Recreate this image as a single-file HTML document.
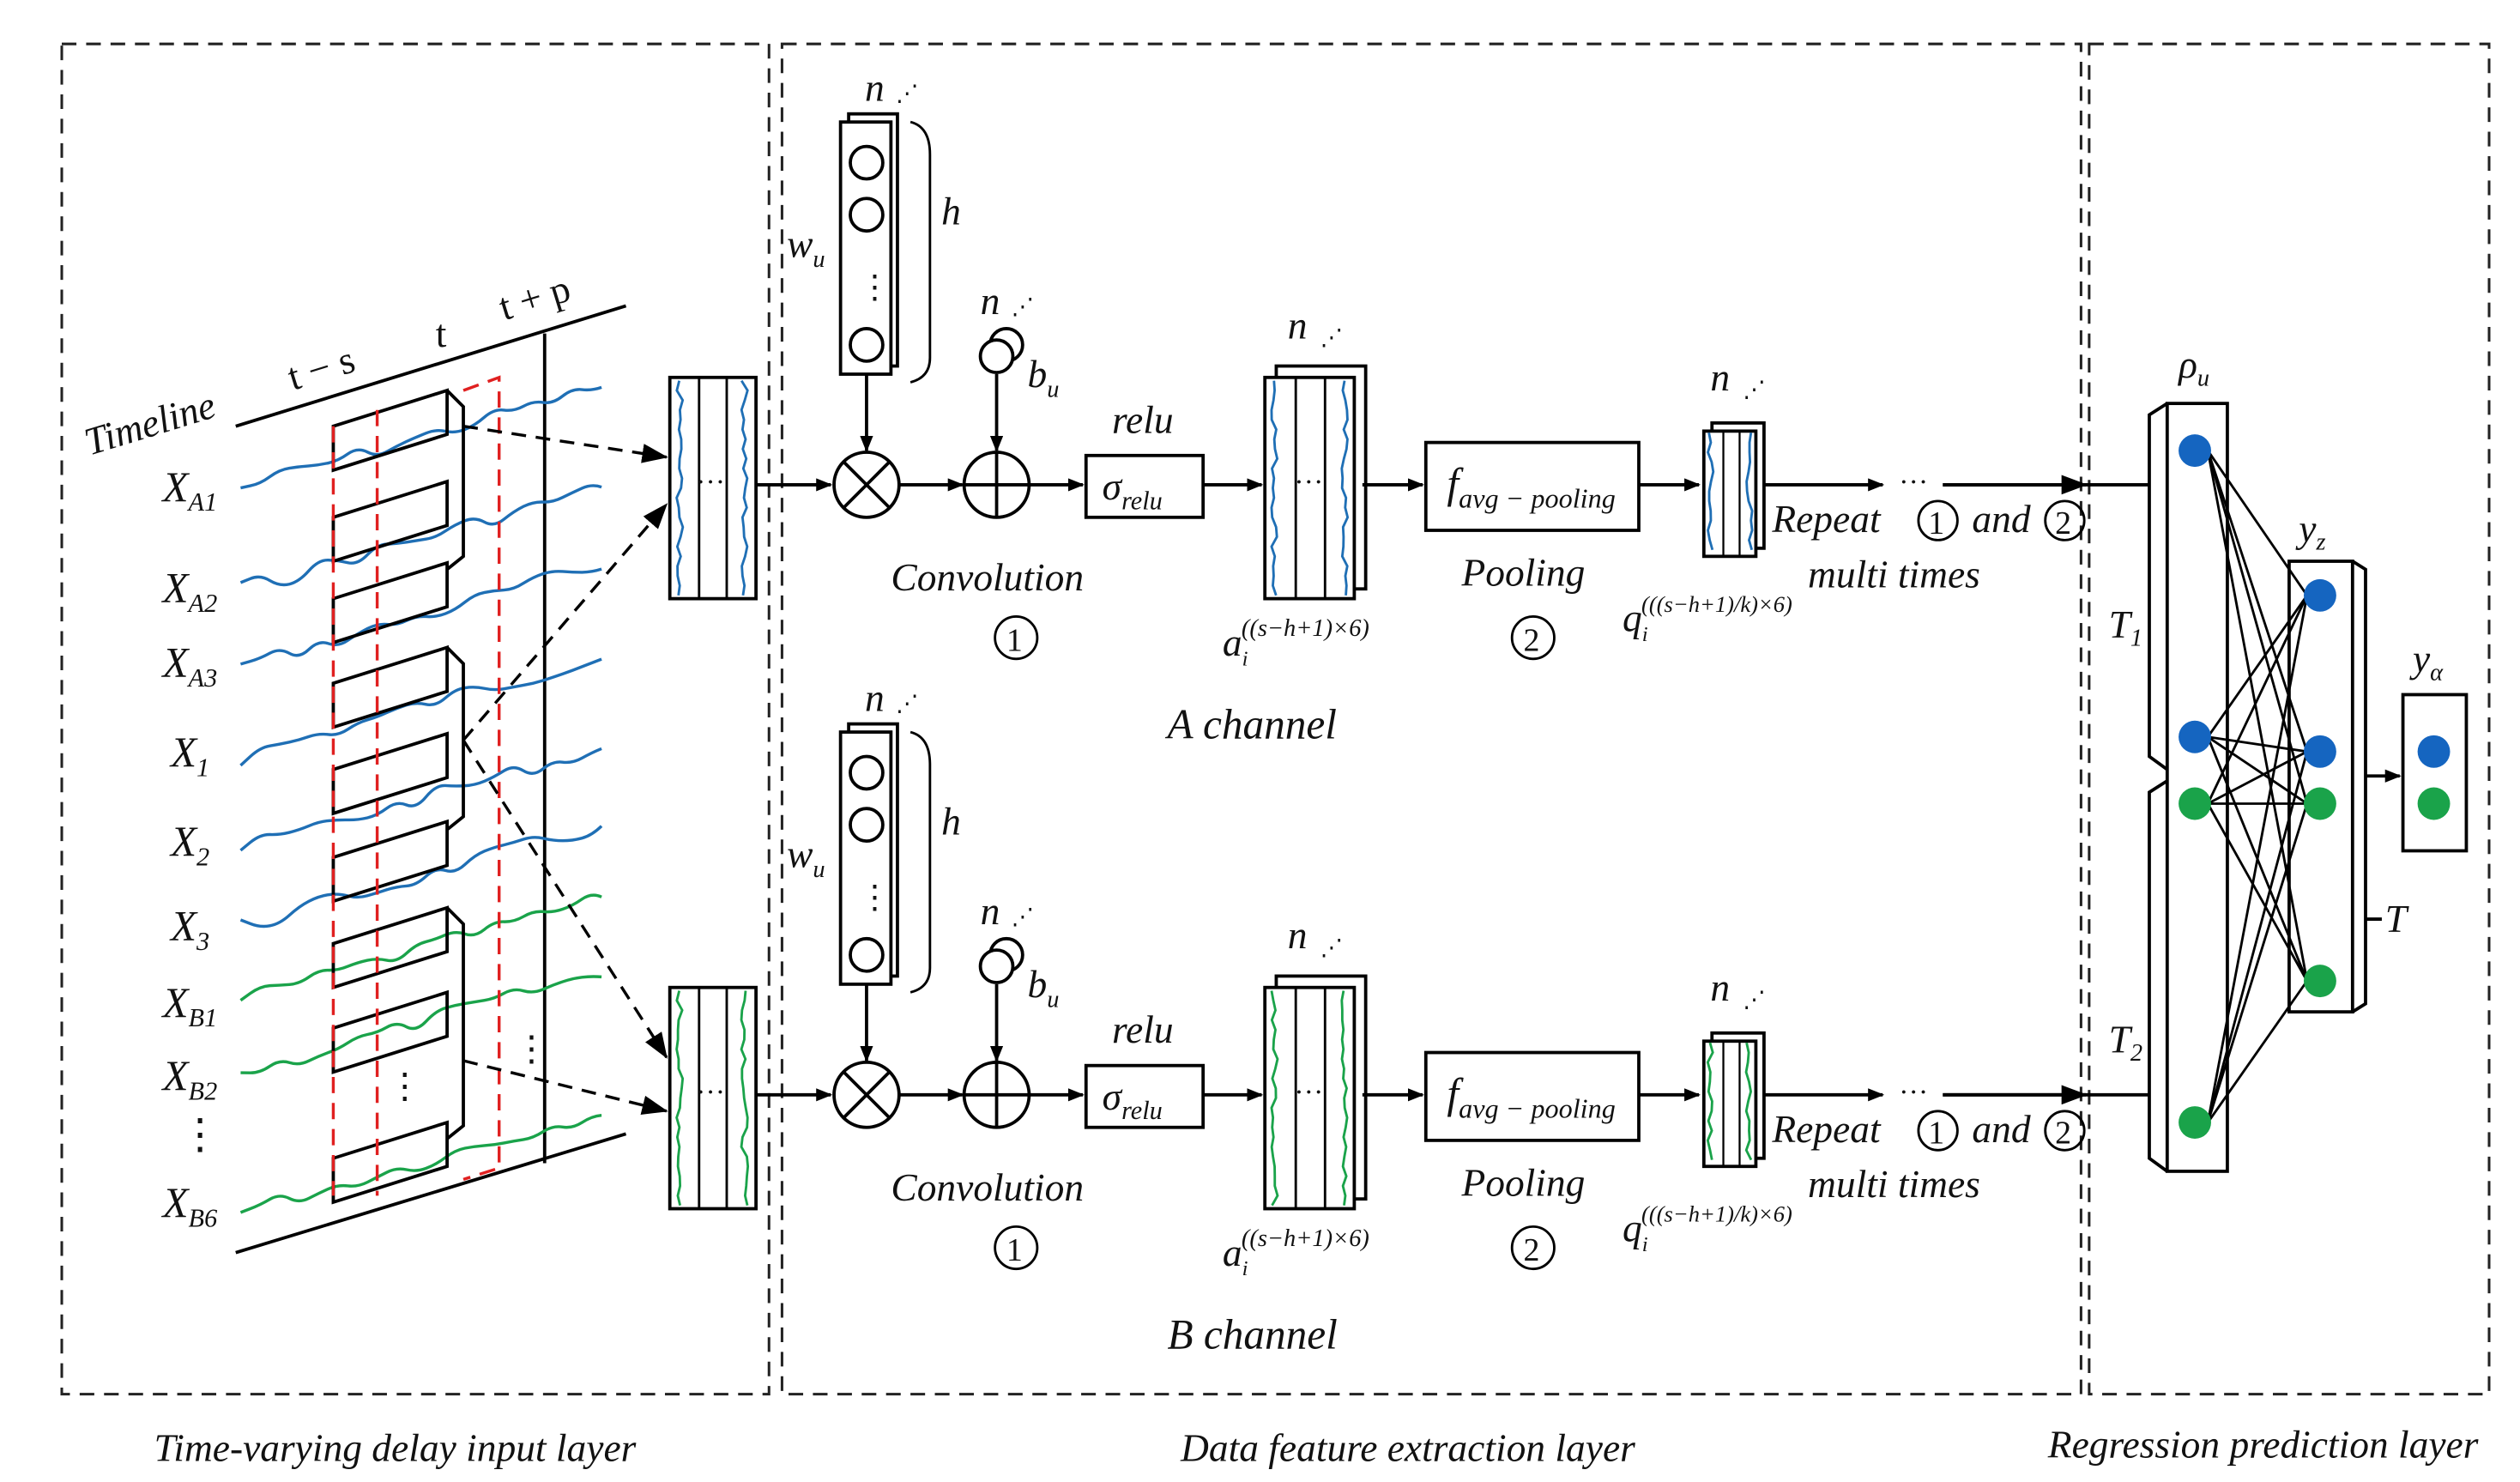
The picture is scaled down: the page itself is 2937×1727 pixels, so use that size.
<!DOCTYPE html>
<html><head><meta charset="utf-8"><style>
html,body{margin:0;padding:0;background:#fff;}
svg{display:block;}
text{font-family:"Liberation Serif",serif;font-style:italic;fill:#111;}
</style></head><body>
<svg id="s" width="2937" height="1727" viewBox="0 0 1550 911" preserveAspectRatio="none" xmlns="http://www.w3.org/2000/svg">
<defs>
<marker id="ah" markerWidth="10" markerHeight="8" refX="9" refY="4" orient="auto" markerUnits="userSpaceOnUse"><path d="M0,0 L10,4 L0,8 z" fill="#000"/></marker>
<marker id="ah2" markerWidth="16" markerHeight="12" refX="15" refY="6" orient="auto" markerUnits="userSpaceOnUse"><path d="M0,0 L16,6 L0,12 z" fill="#000"/></marker>
</defs>
<g fill="none" stroke="#222" stroke-width="1.6" stroke-dasharray="9,6">
<rect x="38" y="27" width="435" height="830"/>
<rect x="481" y="27" width="799" height="830"/>
<rect x="1285" y="27" width="246" height="830"/>
</g>
<text x="243" y="898" font-size="24" text-anchor="middle">Time-varying delay input layer</text>
<text x="866" y="898" font-size="24" text-anchor="middle">Data feature extraction layer</text>
<text x="1392" y="896" font-size="24" text-anchor="middle">Regression prediction layer</text>

<g stroke="#000" stroke-width="2" fill="none">
<line x1="145" y1="262" x2="385" y2="188"/>
<line x1="145" y1="770" x2="385" y2="697"/>
<line x1="335" y1="205" x2="335" y2="715"/>
</g>
<text font-size="24" transform="translate(55,280) rotate(-17)">Timeline</text>
<text font-size="24" transform="translate(180,240) rotate(-17)" style="font-style:normal">t − s</text>
<text font-size="24" x="268" y="213" style="font-style:normal">t</text>
<text font-size="24" transform="translate(310,197) rotate(-17)" style="font-style:normal">t + p</text>
<g font-size="26">
<text x="100" y="308">X<tspan font-size="16" dy="6">A1</tspan></text>
<text x="100" y="370">X<tspan font-size="16" dy="6">A2</tspan></text>
<text x="100" y="416">X<tspan font-size="16" dy="6">A3</tspan></text>
<text x="105" y="471">X<tspan font-size="16" dy="6">1</tspan></text>
<text x="105" y="526">X<tspan font-size="16" dy="6">2</tspan></text>
<text x="105" y="578">X<tspan font-size="16" dy="6">3</tspan></text>
<text x="100" y="625">X<tspan font-size="16" dy="6">B1</tspan></text>
<text x="100" y="670">X<tspan font-size="16" dy="6">B2</tspan></text>
<text x="110" y="706" style="font-style:normal">⋮</text>
<text x="100" y="748">X<tspan font-size="16" dy="6">B6</tspan></text>
</g>
<g id="curves" fill="none" stroke-width="1.8"></g>
<g id="wins" fill="none" stroke="#000" stroke-width="2"></g>
<g fill="none" stroke="#e02020" stroke-width="1.8" stroke-dasharray="10,6">
<line x1="205" y1="262" x2="205" y2="735"/>
<line x1="232" y1="252" x2="232" y2="735"/>
<polyline points="285,240 307,232 307,718 285,725"/>
</g>
<text x="238" y="675" font-size="22" style="font-style:normal">⋮</text>
<text x="316" y="652" font-size="22" style="font-style:normal">⋮</text>
<g stroke="#000" stroke-width="1.8" stroke-dasharray="9,6" fill="none">
<line x1="285" y1="262" x2="410" y2="281" marker-end="url(#ah2)"/>
<line x1="285" y1="455" x2="410" y2="310" marker-end="url(#ah2)"/>
<line x1="285" y1="455" x2="410" y2="650" marker-end="url(#ah2)"/>
<line x1="285" y1="652" x2="410" y2="683" marker-end="url(#ah2)"/>
</g>
<g id="chA"></g>
<g id="chB"></g>

<g stroke="#000" stroke-width="2" fill="none">
<line x1="1195" y1="298" x2="1322" y2="298"/>
<line x1="1195" y1="673" x2="1322" y2="673"/>
<rect x="1333" y="248" width="37" height="472"/>
<path d="M1333,248 L1322,255 L1322,465 L1333,473 M1333,480 L1322,487 L1322,712 L1333,720"/>
<rect x="1408" y="345" width="39" height="277"/>
<path d="M1447,345 L1455,350 L1455,617 L1447,622"/>
<rect x="1478" y="427" width="39" height="96"/>
<line x1="1455" y1="477" x2="1476" y2="477" marker-end="url(#ah)"/>
<line x1="1455" y1="565" x2="1465" y2="565"/>
</g>
<g id="net" stroke="#000" stroke-width="1.5"></g>
<g>
<circle cx="1350" cy="277" r="10" fill="#1565c0"/>
<circle cx="1350" cy="453" r="10" fill="#1565c0"/>
<circle cx="1350" cy="494" r="10" fill="#1aa34a"/>
<circle cx="1350" cy="690" r="10" fill="#1aa34a"/>
<circle cx="1427" cy="366" r="10" fill="#1565c0"/>
<circle cx="1427" cy="462" r="10" fill="#1565c0"/>
<circle cx="1427" cy="494" r="10" fill="#1aa34a"/>
<circle cx="1427" cy="603" r="10" fill="#1aa34a"/>
<circle cx="1497" cy="462" r="10" fill="#1565c0"/>
<circle cx="1497" cy="494" r="10" fill="#1aa34a"/>
</g>
<text x="1340" y="232" font-size="24">ρ<tspan font-size="15" dy="5">u</tspan></text>
<text x="1414" y="333" font-size="24">y<tspan font-size="15" dy="5">z</tspan></text>
<text x="1484" y="413" font-size="24">y<tspan font-size="15" dy="5">α</tspan></text>
<text x="1297" y="392" font-size="24">T<tspan font-size="15" dy="5">1</tspan></text>
<text x="1297" y="647" font-size="24">T<tspan font-size="15" dy="5">2</tspan></text>
<text x="1467" y="573" font-size="24">T</text>
</svg>
<script>
var NS="http://www.w3.org/2000/svg";
function el(p,t,a,txt){var e=document.createElementNS(NS,t);for(var k in a)e.setAttribute(k,a[k]);if(txt!==undefined)e.textContent=txt;p.appendChild(e);return e;}
var seed=7;function rnd(){seed=(seed*9301+49297)%233280;return seed/233280;}
var rows=[[300,"#1f6fb5"],[362,"#1f6fb5"],[410,"#1f6fb5"],[465,"#1f6fb5"],[522,"#1f6fb5"],[570,"#1f6fb5"],[615,"#1aa34a"],[660,"#1aa34a"],[745,"#1aa34a"]];
var cg=document.getElementById("curves");
rows.forEach(function(r){var pts=[];for(var x=148;x<=385;x+=12){pts.push([x,r[0]-(x-148)*0.28+(rnd()-0.5)*12]);}
 var d="M"+pts[0][0]+","+pts[0][1].toFixed(1);
 for(var i=1;i<pts.length;i++){var mx=(pts[i-1][0]+pts[i][0])/2,my=(pts[i-1][1]+pts[i][1])/2;d+=" Q"+pts[i-1][0]+","+pts[i-1][1].toFixed(1)+" "+mx+","+my.toFixed(1);}
 el(cg,"path",{d:d,stroke:r[1]});});
var wg=document.getElementById("wins");
[262,318,368,420,473,527,580,632,712].forEach(function(y){el(wg,"path",{d:"M205,"+y+" L275,"+(y-22)+" L275,"+(y+5)+" L205,"+(y+27)+" Z"});});
[[240,350],[398,510],[558,700]].forEach(function(g){el(wg,"path",{d:"M275,"+g[0]+" L285,"+(g[0]+10)+" L285,"+(g[1]-8)+" L275,"+g[1]});});
function channel(dy,col,label){
 var g=document.getElementById(dy?"chB":"chA");var Y=298+dy;
 var s={stroke:"#000","stroke-width":2,fill:"none"};
 function S(o){var r={};for(var k in s)r[k]=s[k];for(var k in o)r[k]=o[k];return r;}
 el(g,"rect",S({x:412,y:232+dy,width:53,height:136}));
 el(g,"line",S({x1:430,y1:232+dy,x2:430,y2:368+dy,"stroke-width":1.5}));
 el(g,"line",S({x1:447,y1:232+dy,x2:447,y2:368+dy,"stroke-width":1.5}));
 function wav(x,y1,y2){var d="";for(var y=y1;y<=y2;y+=6){d+=(y==y1?"M":"L")+(x+(rnd()-0.5)*4).toFixed(1)+","+y;}el(g,"path",{d:d,stroke:col,fill:"none","stroke-width":1.5});}
 wav(418,234+dy,366+dy);wav(458,234+dy,366+dy);
 el(g,"text",{x:428,y:Y+4,"font-size":18,style:"font-style:normal"},"···");
 el(g,"line",S({x1:465,y1:Y,x2:511,y2:Y,"marker-end":"url(#ah)"}));
 el(g,"rect",S({x:522,y:70+dy,width:30,height:155,fill:"#fff"}));
 el(g,"rect",S({x:517,y:75+dy,width:31,height:155,fill:"#fff"}));
 [100,132,212].forEach(function(c){el(g,"circle",S({cx:533,cy:c+dy,r:10}));});
 el(g,"text",{x:528,y:183+dy,"font-size":20,style:"font-style:normal"},"⋮");
 el(g,"path",S({d:"M560,"+(75+dy)+" Q572,"+(78+dy)+" 572,"+(95+dy)+" L572,"+(220+dy)+" Q572,"+(232+dy)+" 560,"+(235+dy),"stroke-width":1.5}));
 el(g,"text",{x:579,y:138+dy,"font-size":24},"h");
 el(g,"text",{x:532,y:62+dy,"font-size":24},"n");
 el(g,"text",{x:551,y:62+dy,"font-size":14,style:"font-style:normal"},"⋰");
 var t=el(g,"text",{x:484,y:158+dy,"font-size":24},"w");el(t,"tspan",{"font-size":15,dy:6},"u");
 el(g,"line",S({x1:533,y1:230+dy,x2:533,y2:277+dy,"marker-end":"url(#ah)"}));
 el(g,"circle",S({cx:533,cy:Y,r:20}));
 el(g,"line",S({x1:519,y1:Y-14,x2:547,y2:Y+14}));el(g,"line",S({x1:547,y1:Y-14,x2:519,y2:Y+14}));
 el(g,"line",S({x1:553,y1:Y,x2:592,y2:Y,"marker-end":"url(#ah)"}));
 el(g,"circle",S({cx:613,cy:Y,r:20}));
 el(g,"line",S({x1:593,y1:Y,x2:633,y2:Y}));el(g,"line",S({x1:613,y1:Y-20,x2:613,y2:Y+20}));
 el(g,"circle",S({cx:619,cy:212+dy,r:10}));el(g,"circle",S({cx:613,cy:219+dy,r:10,fill:"#fff"}));
 el(g,"text",{x:603,y:193+dy,"font-size":24},"n");
 el(g,"text",{x:622,y:193+dy,"font-size":14,style:"font-style:normal"},"⋰");
 t=el(g,"text",{x:632,y:238+dy,"font-size":24},"b");el(t,"tspan",{"font-size":15,dy:6},"u");
 el(g,"line",S({x1:613,y1:230+dy,x2:613,y2:277+dy,"marker-end":"url(#ah)"}));
 el(g,"line",S({x1:633,y1:Y,x2:666,y2:Y,"marker-end":"url(#ah)"}));
 el(g,"text",{x:684,y:266+dy,"font-size":24},"relu");
 el(g,"rect",S({x:668,y:280+dy,width:72,height:38}));
 t=el(g,"text",{x:678,y:307+dy,"font-size":24},"σ");el(t,"tspan",{"font-size":16,dy:6},"relu");
 el(g,"text",{x:548,y:363+dy,"font-size":24},"Convolution");
 el(g,"circle",S({cx:625,cy:392+dy,r:13,"stroke-width":1.5}));
 el(g,"text",{x:619,y:400+dy,"font-size":20,style:"font-style:normal"},"1");
 el(g,"line",S({x1:740,y1:Y,x2:776,y2:Y,"marker-end":"url(#ah)"}));
 el(g,"rect",S({x:785,y:225+dy,width:55,height:137,fill:"#fff"}));
 el(g,"rect",S({x:778,y:232+dy,width:55,height:136,fill:"#fff"}));
 el(g,"line",S({x1:797,y1:232+dy,x2:797,y2:368+dy,"stroke-width":1.5}));
 el(g,"line",S({x1:815,y1:232+dy,x2:815,y2:368+dy,"stroke-width":1.5}));
 wav(784,234+dy,366+dy);wav(827,234+dy,366+dy);
 el(g,"text",{x:796,y:Y+4,"font-size":18,style:"font-style:normal"},"···");
 el(g,"text",{x:792,y:208+dy,"font-size":24},"n");
 el(g,"text",{x:812,y:212+dy,"font-size":14,style:"font-style:normal"},"⋰");
 t=el(g,"text",{x:752,y:403+dy,"font-size":24},"a");el(t,"tspan",{"font-size":13,dy:6},"i");el(t,"tspan",{"font-size":15,dy:-18,dx:-4},"((s−h+1)×6)");
 el(g,"text",{x:718,y:454+dy,"font-size":26},label);
 el(g,"line",S({x1:838,y1:Y,x2:875,y2:Y,"marker-end":"url(#ah)"}));
 el(g,"rect",S({x:877,y:272+dy,width:131,height:54}));
 t=el(g,"text",{x:890,y:306+dy,"font-size":26},"f");el(t,"tspan",{"font-size":17,dy:6},"avg − pooling");
 el(g,"text",{x:899,y:360+dy,"font-size":24},"Pooling");
 el(g,"circle",S({cx:943,cy:392+dy,r:13,"stroke-width":1.5}));
 el(g,"text",{x:937,y:400+dy,"font-size":20,style:"font-style:normal"},"2");
 el(g,"line",S({x1:1008,y1:Y,x2:1045,y2:Y,"marker-end":"url(#ah)"}));
 el(g,"rect",S({x:1053,y:260+dy,width:32,height:77,fill:"#fff"}));
 el(g,"rect",S({x:1048,y:265+dy,width:32,height:77,fill:"#fff"}));
 el(g,"line",S({x1:1060,y1:265+dy,x2:1060,y2:342+dy,"stroke-width":1.2}));
 el(g,"line",S({x1:1070,y1:265+dy,x2:1070,y2:342+dy,"stroke-width":1.2}));
 wav(1052,266+dy,340+dy);wav(1076,266+dy,340+dy);
 el(g,"text",{x:1052,y:240+dy,"font-size":24},"n");
 el(g,"text",{x:1072,y:244+dy,"font-size":14,style:"font-style:normal"},"⋰");
 el(g,"line",S({x1:1085,y1:Y,x2:1158,y2:Y,"marker-end":"url(#ah)"}));
 el(g,"text",{x:1168,y:Y+4,"font-size":18,style:"font-style:normal"},"···");
 el(g,"line",S({x1:1195,y1:Y,x2:1283,y2:Y,"marker-end":"url(#ah2)"}));
 el(g,"text",{x:1090,y:327+dy,"font-size":24},"Repeat");
 el(g,"circle",S({cx:1192,cy:320+dy,r:12,"stroke-width":1.5}));
 el(g,"text",{x:1186,y:328+dy,"font-size":20,style:"font-style:normal"},"1");
 el(g,"text",{x:1213,y:327+dy,"font-size":24},"and");
 el(g,"circle",S({cx:1270,cy:320+dy,r:12,"stroke-width":1.5}));
 el(g,"text",{x:1264,y:328+dy,"font-size":20,style:"font-style:normal"},"2");
 el(g,"text",{x:1112,y:361+dy,"font-size":24},"multi times");
 t=el(g,"text",{x:998,y:388+dy,"font-size":24},"q");el(t,"tspan",{"font-size":13,dy:6},"i");el(t,"tspan",{"font-size":14,dy:-18,dx:-4},"(((s−h+1)/k)×6)");
}
channel(0,"#1f6fb5","A channel");
channel(375,"#1aa34a","B channel");
var ng=document.getElementById("net");
[277,453,494,690].forEach(function(a){[366,462,494,603].forEach(function(b){el(ng,"line",{x1:1358,y1:a,x2:1419,y2:b});});});
</script>
</body></html>
